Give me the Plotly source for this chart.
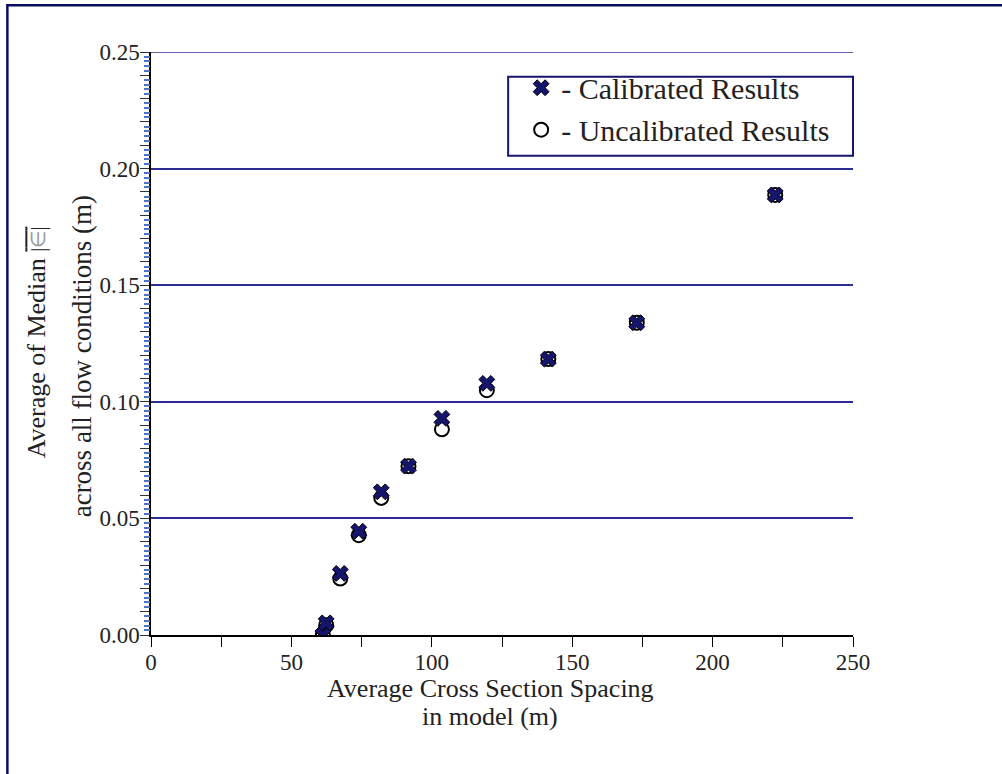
import plotly.graph_objects as go

# Data
spacing = [61.2, 62.4, 67.4, 74.0, 82.0, 91.7, 103.6, 119.6, 141.5, 173.0, 222.3]
calibrated = [0.000, 0.0052, 0.0264, 0.0445, 0.0614, 0.0724, 0.0929, 0.1079, 0.1183, 0.1339, 0.1887]
uncalibrated = [0.000, 0.0042, 0.0242, 0.0428, 0.0588, 0.0724, 0.0882, 0.1050, 0.1183, 0.1339, 0.1887]

y_ticks_major = [0.00, 0.05, 0.10, 0.15, 0.20, 0.25]
x_ticks = [0, 50, 100, 150, 200, 250]

NAVY = "#15156e"
GRID = "#2c2c92"
MINOR_BLUE = "#4c72cc"
FONT = "Liberation Serif"

fig = go.Figure()

fig.add_trace(go.Scatter(
    x=spacing, y=uncalibrated, mode="markers",
    name="- Uncalibrated Results", legendrank=2,
    marker=dict(symbol="circle-open", size=14, color="black", line=dict(width=2, color="black")),
))
fig.add_trace(go.Scatter(
    x=spacing, y=calibrated, mode="markers",
    name="- Calibrated Results", legendrank=1,
    marker=dict(symbol="x", size=14, color=NAVY, line=dict(width=1, color="black")),
))
# invisible trace to anchor the secondary (minor tick) axis
fig.add_trace(go.Scatter(
    x=spacing, y=calibrated, yaxis="y2", mode="markers",
    marker=dict(opacity=0), showlegend=False, hoverinfo="skip",
))

minor_vals = [round(i * 0.002, 3) for i in range(0, 126) if i % 5 != 0]
YMAX = 0.25

fig.update_layout(
    width=1002, height=774,
    margin=dict(l=151, r=149, t=52, b=139),
    paper_bgcolor="white", plot_bgcolor="white",
    font=dict(family=FONT, color="#222222"),
    showlegend=True,
    legend=dict(
        x=(521 - 150.7) / 702.3, xanchor="left",
        y=(634.7 - 62) / 582.4, yanchor="top",
        bgcolor="rgba(0,0,0,0)", borderwidth=0,
        font=dict(family=FONT, size=30, color="#222222"),
    ),
    xaxis=dict(
        range=[0, 250], tickvals=x_ticks, showgrid=False, zeroline=False,
        showline=True, linecolor="black", linewidth=1.5,
        ticks="outside", ticklen=10, tickwidth=1.3, tickcolor="black",
        minor=dict(dtick=25, ticks="outside", ticklen=10, tickwidth=1.3, tickcolor="black", showgrid=False),
        tickfont=dict(family=FONT, size=23, color="#222222"),
        ticklabelstandoff=-4,
    ),
    yaxis=dict(
        range=[0, YMAX], tickvals=y_ticks_major, tickformat=".2f",
        showgrid=True, gridcolor=GRID, gridwidth=1.5, zeroline=False,
        showline=True, linecolor="black", linewidth=1.5,
        ticks="outside", ticklen=9, tickwidth=1.3, tickcolor="#333333",
        minor=dict(dtick=0.01, ticks="outside", ticklen=9, tickwidth=1.3, tickcolor="#333333", showgrid=False),
        tickfont=dict(family=FONT, size=23, color="#222222"),
        ticklabelstandoff=-4,
    ),
    yaxis2=dict(
        range=[0, YMAX], overlaying="y", side="left", anchor="x",
        tickvals=minor_vals, showticklabels=False, showgrid=False, zeroline=False,
        showline=False, ticks="outside", ticklen=6, tickwidth=1.5, tickcolor=MINOR_BLUE,
    ),
)

def px_x(p):
    return (p - 150.7) / 702.3

def px_y(p):
    return (634.7 - p) / 582.4

# Top gridline (plotly omits grid lines on the range edge)
fig.add_shape(type="line", xref="paper", yref="y", x0=0, x1=1,
              y0=y_ticks_major[-1], y1=y_ticks_major[-1],
              line=dict(color=GRID, width=1.5), layer="below")
# Outer frame
fig.add_shape(type="rect", xref="paper", yref="paper",
              x0=px_x(7), y0=px_y(5.5), x1=px_x(1015), y1=px_y(790),
              line=dict(color="#0c0c66", width=2.5), layer="above")
# Legend box
fig.add_shape(type="rect", xref="paper", yref="paper",
              x0=px_x(508), y0=px_y(77), x1=px_x(853), y1=px_y(156),
              line=dict(color=NAVY, width=2), layer="above")

# Axis titles
fig.add_annotation(text="Average Cross Section Spacing", xref="paper", yref="paper",
                   x=px_x(490), y=px_y(688), xanchor="center", yanchor="middle",
                   showarrow=False, font=dict(family=FONT, size=26, color="#222222"))
fig.add_annotation(text="in model (m)", xref="paper", yref="paper",
                   x=px_x(490), y=px_y(716), xanchor="center", yanchor="middle",
                   showarrow=False, font=dict(family=FONT, size=26, color="#222222"))

fig.add_annotation(
    text=("Average of Median <span style='text-decoration:overline;font-size:20px'>|"
          "<span style='color:#9a9a9a'>\u2208</span>|</span>"),
    xref="paper", yref="paper", x=px_x(37), y=px_y(342),
    xanchor="center", yanchor="middle", textangle=-90, showarrow=False,
    font=dict(family=FONT, size=26, color="#222222"))
fig.add_annotation(
    text="across all flow conditions (m)",
    xref="paper", yref="paper", x=px_x(82), y=px_y(356),
    xanchor="center", yanchor="middle", textangle=-90, showarrow=False,
    font=dict(family=FONT, size=27, color="#222222"))

fig.write_html("out.html", config={"displayModeBar": False},
               post_script="document.body.style.margin='0';")
